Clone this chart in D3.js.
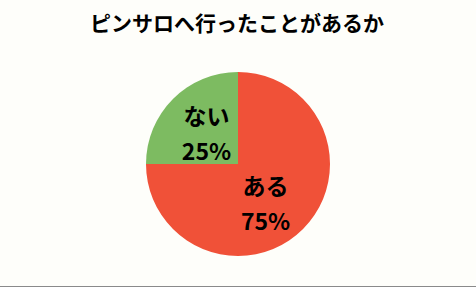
<!DOCTYPE html>
<html><head><meta charset="utf-8">
<script src="https://cdn.jsdelivr.net/npm/d3@7"></script>
<style>html,body{margin:0;padding:0;background:#fefefa;}</style>
</head><body>
<svg id="c" width="476" height="287"></svg>
<script>
const title = "ピンサロへ行ったことがあるか";
const categories = ["ある", "ない"];
const values = [75, 25];
const colors = ["#f05138", "#7dbb61"];

const svg = d3.select("#c");
const W = 476, H = 287;
svg.append("rect").attr("width", W).attr("height", H).attr("fill", "#fefefa");
svg.append("line").attr("x1", 0).attr("x2", W).attr("y1", H - 0.5).attr("y2", H - 0.5)
  .attr("stroke", "#8a8a8a").attr("stroke-width", 1);

const font = "'Noto Sans CJK JP', 'Noto Sans', sans-serif";
svg.append("text").attr("x", 237).attr("y", 31).attr("text-anchor", "middle")
  .attr("font-family", font).attr("font-weight", "bold").attr("font-size", 21)
  .attr("fill", "#000").text(title);

const cx = 238, cy = 164, r = 92;
const data = categories.map((c, i) => ({ cat: c, v: values[i], col: colors[i] }));
const pie = d3.pie().value(d => d.v).sort(null);
const arc = d3.arc().innerRadius(0).outerRadius(r);
const g = svg.append("g").attr("transform", `translate(${cx},${cy})`);
const arcs = pie(data);
g.selectAll("path").data(arcs).join("path").attr("d", arc).attr("fill", d => d.data.col);

const labelArc = d3.arc().innerRadius(r * 0.5).outerRadius(r * 0.5);
const nudge = [[-5, 2], [1, -2]];
arcs.forEach((a, i) => {
  const [lx0, ly0] = labelArc.centroid(a);
  const lx = lx0 + nudge[i][0], ly = ly0 + nudge[i][1];
  const t = g.append("text").attr("text-anchor", "middle")
    .attr("font-family", font).attr("font-weight", "bold").attr("font-size", 23).attr("fill", "#000");
  t.append("tspan").attr("x", lx).attr("y", ly - 4).text(a.data.cat);
  t.append("tspan").attr("x", lx).attr("y", ly + 31).text(a.data.v + "%");
});
</script>
</body></html>
